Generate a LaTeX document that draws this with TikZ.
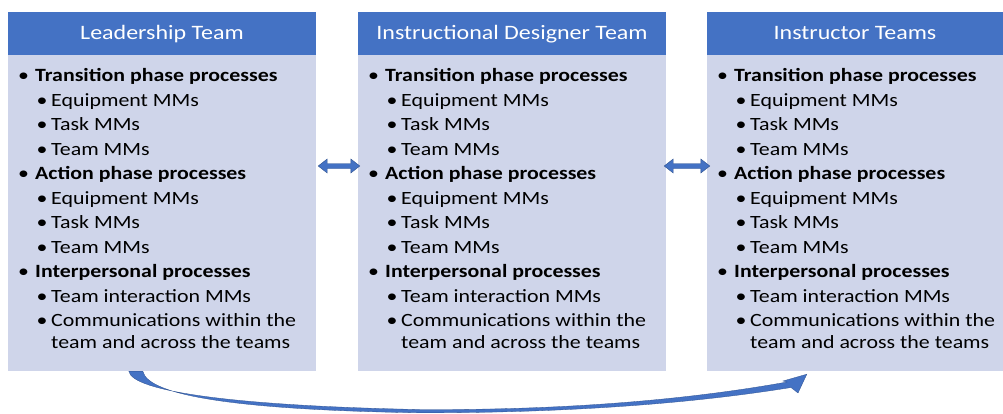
\documentclass[tikz,border=0pt]{standalone}
\usepackage{fontspec}
\setmainfont{Carlito}[FakeStretch=1.17]
\usetikzlibrary{calc,arrows.meta}
\definecolor{hdrblue}{HTML}{4472C4}
\definecolor{bodylav}{HTML}{CFD5EA}
\definecolor{arrowedge}{HTML}{2F528F}
\tikzset{
  hdr/.style={rectangle,fill=hdrblue,text=white,inner sep=0pt,minimum height=43pt,text height=14pt,text depth=3pt,font=\fontsize{20.5}{22}\selectfont},
  bodybox/.style={rectangle,fill=bodylav,inner sep=0pt,minimum height=316pt},
  itemtxt/.style={anchor=base west,inner sep=0pt,font=\fontsize{18.7}{20}\selectfont},
  dblarrow/.style={draw=arrowedge,line width=0.4pt,fill=hdrblue},
}
\begin{document}
\begin{tikzpicture}[x=1pt,y=-1pt]
\useasboundingbox (0,0) rectangle (1003,413);
% boxes
\foreach \c/\xx/\w/\ttl in {lead/8/308/Leadership Team, idt/358/308/Instructional Designer Team, inst/707/296/Instructor Teams}{
  \node[hdr,minimum width=\w pt] (\c-h) at (\xx+\w/2,33.5) {\ttl};
  \node[bodybox,minimum width=\w pt] (\c-b) at (\xx+\w/2,213) {};
  \foreach \n/\lvl/\yy/\txt in {
    1/1/81.5/Transition phase processes,
    2/2/106/Equipment MMs,
    3/2/130.5/Task MMs,
    4/2/155/Team MMs,
    5/1/179.5/Action phase processes,
    6/2/204/Equipment MMs,
    7/2/228.5/Task MMs,
    8/2/253/Team MMs,
    9/1/277.5/Interpersonal processes,
    10/2/302/Team interaction MMs,
    11/2/326.5/Communications within the,
    12/3/348.5/team and across the teams}{
    \ifnum\lvl=1
      \node[itemtxt] (\c-d\n) at (\xx+10,\yy) {\textbullet};
      \node[itemtxt,font=\fontsize{18.7}{20}\selectfont\bfseries] (\c-t\n) at (\xx+27,\yy) {\txt};
    \else\ifnum\lvl=2
      \node[itemtxt] (\c-d\n) at (\xx+28.5,\yy) {\textbullet};
      \node[itemtxt] (\c-t\n) at (\xx+43,\yy) {\txt};
    \else
      \node[itemtxt] (\c-t\n) at (\xx+43,\yy) {\txt};
    \fi\fi
  }
}
% double arrows
\coordinate (a1s) at ($(lead-b.east)+(2,-47)$);
\coordinate (a1e) at ($(idt-b.west)+(2,-47)$);
\coordinate (a2s) at ($(idt-b.east)+(-2,-47)$);
\coordinate (a2e) at ($(inst-b.west)+(3,-47)$);
\foreach \s/\e in {a1s/a1e, a2s/a2e}{
  \path[dblarrow] (\s) -- ++(9,-7) -- ++(0,4.5)
     -- ($(\e)+(-9,-2.5)$) -- ++(0,-4.5) -- (\e) -- ++(-9,7) -- ++(0,-4.5)
     -- ($(\s)+(9,2.5)$) -- ++(0,4.5) -- cycle;
}
% curved arrow
\coordinate (cs) at ($(lead-b.south west)+(121,0)$);
\coordinate (ce) at ($(inst-b.south west)+(100,3)$);
\path[fill=hdrblue,draw=arrowedge,line width=0.3pt]
  (cs) .. controls (132,392) and (240,406) .. (420,409.5)
       .. controls (600,410.5) and (720,394) .. (787,382)
       -- (783,381) -- (ce) -- (798,393) -- (791,387.5)
       .. controls (720,399) and (600,413) .. (420,412.8)
       .. controls (240,410) and (148,396) .. ($(cs)+(14,0)$) -- cycle;
\end{tikzpicture}
\end{document}
